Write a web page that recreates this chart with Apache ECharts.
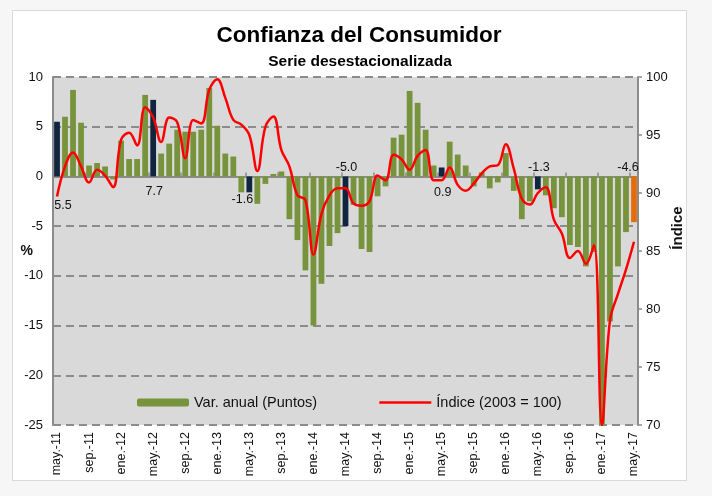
<!DOCTYPE html>
<html>
<head>
<meta charset="utf-8">
<script src="https://cdn.jsdelivr.net/npm/echarts@6/dist/echarts.min.js"></script>
<style>
  html, body { margin: 0; padding: 0; background: #f6f6f6; }
  .frame { position: absolute; left: 12px; top: 10px; width: 673px; height: 469px; background: #fff; border: 1px solid #d9d9d9; }
  #chart { position: absolute; left: 0; top: 0; width: 712px; height: 496px; }
</style>
</head>
<body>
<div class="frame"></div>
<div id="chart"></div>
<script>
// meses may-11 .. may-17
const monthNames = ['ene', 'feb', 'mar', 'abr', 'may', 'jun', 'jul', 'ago', 'sep', 'oct', 'nov', 'dic']
const categories = []
for (let k = 0; k < 73; k++) {
  const m = (4 + k) % 12
  const y = 11 + Math.floor((4 + k) / 12)
  categories.push(monthNames[m] + '.-' + y)
}

// Var. anual (Puntos)
const varAnual = [
  5.5, 6.0, 8.7, 5.4, 1.1, 1.35, 1.0, -0.3, 3.6, 1.75, 1.75, 8.2,
  7.7, 2.3, 3.3, 4.7, 4.5, 4.5, 4.7, 8.9, 5.1, 2.3, 2.0, -1.6,
  -1.6, -2.75, -0.75, 0.25, 0.5, -4.3, -6.4, -9.45, -15.0, -10.8, -7.0, -5.7,
  -5.0, -2.85, -7.3, -7.6, -2.0, -1.0, 3.9, 4.2, 8.6, 7.4, 4.7, 1.1,
  0.9, 3.5, 2.2, 1.1, -1.0, 0.4, -1.2, -0.6, 2.35, -1.45, -4.3, -2.5,
  -1.3, -1.9, -3.2, -4.1, -6.9, -7.1, -9.05, -7.6, -25.0, -14.6, -9.05, -5.6,
  -4.6
]

// Índice (2003 = 100)
const indice = [
  89.7, 92.3, 93.5, 92.3, 90.9, 92.0, 91.5, 90.5, 94.6, 95.2, 94.1, 97.4,
  96.5, 94.4, 96.5, 96.1, 93.0, 96.3, 96.0, 98.9, 99.8, 98.2, 96.3, 95.9,
  95.0, 91.9, 95.7, 96.6, 93.7, 92.3, 89.8, 89.4, 84.7, 88.2, 89.8, 90.4,
  90.4, 89.1, 88.9, 89.3, 91.5, 91.1, 93.3, 92.9, 92.0, 93.2, 93.7, 91.1,
  91.1, 92.2, 90.7, 90.2, 90.8, 91.7, 92.3, 92.4, 94.2, 92.1, 89.5, 89.0,
  90.0, 90.5, 87.7, 86.5, 84.4, 85.0, 83.9, 85.5, 70.0, 79.0, 81.3, 83.4,
  85.8
]

const leftTicks = [-25, -20, -15, -10, -5, 0, 5, 10]
const rightTicks = [70, 75, 80, 85, 90, 95, 100]

const green = '#77933c'
const navy = '#10253f'
const orange = '#e46c0a'
const grey = '#8c8c8c'

// etiquetas de mayo (colocadas a mano como en el original)
const labelPlace = {
  0: { position: 'bottom', distance: 23, offset: [6, 0] },
  12: { position: 'bottom', distance: 9, offset: [1, 0] },
  24: { position: 'bottom', distance: 1, offset: [-7, 0] },
  36: { position: 'top', distance: 2, offset: [1, 0] },
  48: { position: 'bottom', distance: 10, offset: [1, 0] },
  60: { position: 'top', distance: 2, offset: [1, 0] },
  72: { position: 'top', distance: 2, offset: [-6, 0] }
}

const barData = varAnual.map((v, i) => {
  let color = green
  if (i === varAnual.length - 1) color = orange
  else if (i % 12 === 0) color = navy
  const item = { value: v, itemStyle: { color: color } }
  if (labelPlace[i]) {
    item.label = Object.assign({
      show: true,
      color: '#111',
      fontSize: 12.5,
      fontFamily: 'Liberation Sans',
      formatter: (p) => p.value.toFixed(1)
    }, labelPlace[i])
  }
  return item
})

const chart = echarts.init(document.getElementById('chart'))
chart.setOption({
  animation: false,
  textStyle: { fontFamily: 'Liberation Sans' },
  title: [
    {
      text: 'Confianza del Consumidor',
      left: 354, top: 19, textAlign: 'center',
      textStyle: { fontSize: 22.5, fontWeight: 'bold', color: '#000', fontFamily: 'Liberation Sans' }
    },
    {
      text: 'Serie desestacionalizada',
      left: 355, top: 49, textAlign: 'center',
      textStyle: { fontSize: 15.5, fontWeight: 'bold', color: '#000', fontFamily: 'Liberation Sans' }
    }
  ],
  legend: {
    left: 132, top: 390,
    itemWidth: 52, itemHeight: 8, itemGap: 61,
    textStyle: { fontSize: 14.5, color: '#111', fontFamily: 'Liberation Sans' },
    data: [
      { name: 'Var. anual (Puntos)', itemStyle: { color: green } },
      { name: 'Índice (2003 = 100)', itemStyle: { opacity: 0 }, lineStyle: { color: '#ff0000', width: 2.5 } }
    ]
  },
  grid: {
    left: 53, right: 74, top: 77, bottom: 71,
    show: true, backgroundColor: '#d9d9d9', borderWidth: 0
  },
  xAxis: [
    {
      type: 'category',
      data: categories,
      axisLine: { show: false, onZero: false },
      axisTick: { show: false },
      axisLabel: { interval: 3, rotate: 90, margin: 7, fontSize: 12.5, color: '#111' },
      splitLine: { show: false }
    },
    {
      type: 'category',
      data: categories,
      axisLine: { show: true, onZero: true, lineStyle: { color: grey, width: 2 } },
      axisTick: { show: true, interval: 3, length: 4, lineStyle: { color: grey, width: 1.5 } },
      axisLabel: { show: false },
      splitLine: { show: false }
    }
  ],
  yAxis: [
    {
      type: 'value',
      min: leftTicks[0], max: leftTicks[leftTicks.length - 1], interval: 5,
      name: '%', nameLocation: 'middle', nameGap: 20, nameRotate: 0, nameMoveOverlap: false,
      nameTextStyle: { fontWeight: 'bold', fontSize: 14, color: '#111' },
      axisLine: { show: true, lineStyle: { color: grey, width: 2 } },
      axisTick: { show: false },
      axisLabel: { margin: 10, fontSize: 13, color: '#111' },
      splitLine: { show: true, lineStyle: { color: grey, width: 2, type: [8, 5] } }
    },
    {
      type: 'value',
      min: rightTicks[0], max: rightTicks[rightTicks.length - 1], interval: 5,
      name: 'Índice', nameLocation: 'middle', nameGap: 32, nameRotate: 90, nameMoveOverlap: false,
      nameTextStyle: { fontWeight: 'bold', fontSize: 15, color: '#111', padding: [0, 0, 0, 46] },
      axisLine: { show: true, lineStyle: { color: grey, width: 2 } },
      axisTick: { show: true, length: 4, lineStyle: { color: grey, width: 1.5 } },
      axisLabel: { margin: 8, fontSize: 13, color: '#111' },
      splitLine: { show: false }
    }
  ],
  series: [
    {
      name: 'Var. anual (Puntos)',
      type: 'bar',
      xAxisIndex: 0, yAxisIndex: 0,
      barCategoryGap: '28%',
      data: barData
    },
    {
      name: 'Índice (2003 = 100)',
      type: 'line',
      xAxisIndex: 0, yAxisIndex: 1,
      data: indice,
      smooth: 0.4,
      symbol: 'none',
      lineStyle: { color: '#ff0000', width: 2.5 },
      itemStyle: { color: '#ff0000' },
      z: 5
    }
  ]
})
</script>
</body>
</html>
